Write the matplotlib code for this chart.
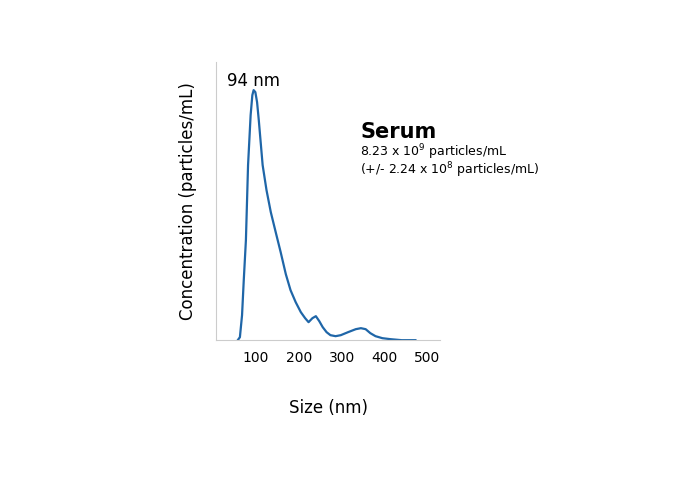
import matplotlib.pyplot as plt

plt.rcParams['font.family'] = ['Liberation Sans Narrow', 'DejaVu Sans']

size_nm = [58, 63, 68, 72, 77, 82, 88, 92, 95, 99, 103, 107, 112, 116, 125, 135, 147, 158, 170, 181, 193, 205, 215, 223, 232, 240, 248, 256, 265, 274, 286, 298, 315, 333, 345, 356, 367, 379, 395, 414, 440, 472]
conc = [0, 3, 25, 60, 100, 175, 225, 245, 250, 248, 238, 220, 195, 175, 150, 128, 107, 88, 66, 50, 38, 28, 22, 18, 22, 24, 19, 13, 8, 5, 4, 5, 8, 11, 12, 11, 7, 4, 2, 1, 0, 0]

fig = plt.figure(figsize=(7, 5.01), dpi=100)
ax = fig.add_axes([0.309, 0.321, 0.32, 0.555])
ax.plot(size_nm, conc, color='#1f66a8', lw=1.6)
ax.set_xlim(8, 530)
ax.set_ylim(0, 278)
ax.set_xticks([100, 200, 300, 400, 500])
ax.tick_params(axis='x', length=0, labelsize=10, pad=8)
ax.set_yticks([])
for s in ['top', 'right']:
    ax.spines[s].set_visible(False)
for s in ['left', 'bottom']:
    ax.spines[s].set_color('#cccccc')
ax.set_xlabel('Size (nm)', fontsize=12, labelpad=24)
ax.set_ylabel('Concentration (particles/mL)', fontsize=12, labelpad=14)

ax.text(95, 250, '94 nm', fontsize=12, ha='center', va='bottom')
fig.text(0.515, 0.725, 'Serum', fontsize=15, fontweight='bold')
fig.text(0.515, 0.688, '8.23 x 10$^9$ particles/mL', fontsize=9)
fig.text(0.515, 0.652, '(+/- 2.24 x 10$^8$ particles/mL)', fontsize=9)

fig.savefig('out.png', dpi=100)
